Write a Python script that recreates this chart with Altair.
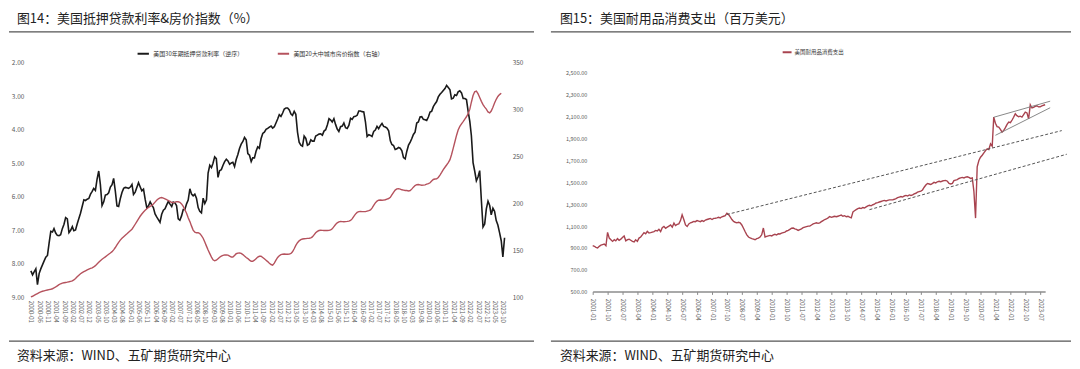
import altair as alt
import pandas as pd

# ---------------- data: left panel ----------------
rate_name = "美国30年期抵押贷款利率（逆序）"
hpi_name = "美国20大中城市房价指数（右轴）"
rate_start = "2000-01-01"
mortgage_rate = [
    8.21, 8.33, 8.24, 8.15, 8.62, 8.29, 8.15, 8.03, 7.91, 7.80, 7.75, 7.38,
    7.03, 7.05, 6.95, 7.08, 7.15, 7.16, 7.13, 6.95, 6.82, 6.62, 6.66, 7.07,
    7.00, 6.89, 7.01, 6.99, 6.81, 6.65, 6.49, 6.29, 6.09, 6.11, 6.07, 6.05,
    5.92, 5.84, 5.75, 5.81, 5.48, 5.23, 5.63, 6.26, 6.15, 5.95, 5.93, 5.88,
    5.71, 5.64, 5.45, 5.83, 6.27, 6.29, 6.06, 5.87, 5.75, 5.72, 5.73, 5.75,
    5.71, 5.63, 5.93, 5.86, 5.72, 5.58, 5.70, 5.82, 5.77, 6.07, 6.33, 6.27,
    6.15, 6.25, 6.32, 6.51, 6.60, 6.68, 6.76, 6.52, 6.40, 6.36, 6.24, 6.14,
    6.22, 6.29, 6.16, 6.18, 6.26, 6.66, 6.70, 6.57, 6.38, 6.38, 6.21, 6.10,
    5.76, 5.92, 5.97, 5.92, 6.04, 6.32, 6.43, 6.48, 6.04, 6.20, 6.09, 5.29,
    5.06, 5.13, 5.00, 4.81, 4.86, 5.42, 5.22, 5.19, 5.06, 4.95, 4.88, 4.93,
    5.03, 4.99, 4.97, 5.10, 4.89, 4.74, 4.56, 4.43, 4.35, 4.23, 4.30, 4.71,
    4.76, 4.95, 4.84, 4.84, 4.64, 4.51, 4.55, 4.27, 4.11, 4.07, 3.99, 3.96,
    3.92, 3.89, 3.95, 3.91, 3.80, 3.68, 3.55, 3.60, 3.50, 3.38, 3.35, 3.35,
    3.41, 3.53, 3.57, 3.45, 3.54, 4.07, 4.37, 4.46, 4.49, 4.19, 4.26, 4.46,
    4.43, 4.30, 4.34, 4.34, 4.19, 4.16, 4.13, 4.12, 4.16, 4.04, 4.00, 3.86,
    3.67, 3.71, 3.77, 3.67, 3.84, 3.98, 4.05, 3.91, 3.89, 3.80, 3.94, 3.96,
    3.87, 3.66, 3.69, 3.61, 3.60, 3.57, 3.44, 3.44, 3.46, 3.47, 3.77, 4.20,
    4.15, 4.17, 4.20, 4.05, 4.01, 3.90, 3.97, 3.88, 3.81, 3.90, 3.92, 3.95,
    4.03, 4.33, 4.44, 4.47, 4.59, 4.57, 4.53, 4.55, 4.63, 4.83, 4.87, 4.64,
    4.46, 4.37, 4.27, 4.14, 4.07, 3.80, 3.77, 3.62, 3.61, 3.69, 3.70, 3.72,
    3.62, 3.47, 3.45, 3.31, 3.23, 3.16, 3.02, 2.94, 2.89, 2.83, 2.77, 2.68,
    2.74, 2.81, 3.08, 3.06, 2.96, 2.98, 2.87, 2.84, 2.90, 3.07, 3.07, 3.10,
    3.45, 3.76, 4.17, 4.98, 5.23, 5.52, 5.41, 5.22, 6.11, 6.90, 6.81, 6.36,
    6.13, 6.26, 6.54, 6.34, 6.43, 6.71, 6.84, 7.07, 7.31, 7.79, 7.22,
]
hpi_20city = [
    100.6, 101.2, 102.1, 103.1, 104.1, 105.0, 105.8, 106.5, 107.0, 107.5, 107.9, 108.3,
    108.7, 109.2, 110.0, 111.1, 112.3, 113.5, 114.5, 115.2, 115.6, 115.9, 116.2, 116.6,
    117.1, 117.6, 118.6, 120.1, 121.9, 123.6, 125.1, 126.4, 127.4, 128.3, 129.2, 130.1,
    130.8, 131.4, 132.4, 133.8, 135.5, 137.3, 139.0, 140.6, 141.9, 143.2, 144.6, 146.0,
    147.3, 148.7, 150.6, 153.1, 155.9, 158.6, 161.0, 162.9, 164.5, 166.1, 167.7, 169.4,
    171.0, 172.6, 175.0, 177.9, 180.8, 183.7, 186.4, 188.8, 190.9, 192.8, 194.4, 195.7,
    197.0, 198.0, 199.5, 201.5, 203.4, 205.0, 206.0, 206.3, 205.7, 204.9, 204.0, 203.2,
    202.2, 201.0, 200.9, 201.4, 202.0, 201.9, 201.3, 199.6, 196.9, 193.3, 189.6, 184.9,
    180.7, 175.9, 171.7, 169.4, 168.8, 168.9, 167.9, 165.8, 163.0, 158.9, 154.6, 150.5,
    146.6, 142.9, 140.0, 139.0, 139.6, 141.2, 142.8, 144.0, 144.7, 145.2, 145.1, 145.0,
    144.0, 143.0, 142.9, 144.7, 146.5, 147.1, 147.3, 146.9, 145.6, 144.0, 142.5, 141.3,
    139.7, 138.5, 138.5, 139.6, 141.2, 142.9, 143.8, 143.8, 142.5, 141.1, 139.6, 138.1,
    136.4, 135.0, 134.4, 136.5, 139.7, 142.5, 144.3, 145.5, 146.0, 146.2, 146.0, 146.0,
    146.1, 146.8, 148.6, 151.8, 155.4, 158.2, 160.2, 161.5, 162.2, 162.5, 162.6, 162.8,
    163.0, 163.4, 164.4, 166.6, 168.8, 170.3, 171.2, 171.5, 171.4, 171.3, 171.2, 171.3,
    171.4, 171.8, 173.0, 175.3, 177.6, 179.4, 180.5, 180.8, 180.7, 180.5, 180.7, 180.9,
    181.3, 182.0, 183.6, 186.3, 188.7, 190.5, 191.3, 191.5, 191.3, 191.3, 191.4, 191.9,
    192.4, 193.2, 195.1, 197.9, 200.7, 202.5, 203.5, 203.7, 203.5, 203.7, 204.0, 204.7,
    205.3, 206.6, 209.1, 211.9, 214.3, 215.6, 215.8, 215.4, 214.6, 214.3, 213.9, 213.8,
    213.4, 213.8, 215.3, 217.4, 219.1, 220.0, 220.2, 219.8, 219.4, 219.6, 219.9, 220.6,
    221.2, 222.1, 224.0, 225.6, 226.1, 226.3, 227.8, 230.3, 233.1, 236.0, 238.6, 241.0,
    243.6, 246.7, 252.0, 258.8, 265.5, 272.5, 278.3, 282.1, 284.9, 287.3, 289.9, 292.4,
    295.7, 300.5, 307.9, 315.0, 319.0, 319.8, 317.0, 312.9, 308.8, 305.3, 302.6, 300.6,
    297.5, 296.5, 298.5, 302.5, 307.0, 311.0, 314.0, 316.0, 317.5,
]
left_rate_ticks = [2, 3, 4, 5, 6, 7, 8, 9]
left_hpi_ticks = [100, 150, 200, 250, 300, 350]
left_x_labels = [f"{2000 + m // 12}-{m % 12 + 1:02d}" for m in range(0, 286, 5)]

# ---------------- data: right panel ----------------
durable_name = "美国耐用品消费支出"
durable_start = "2001-01-01"
durable_spending = [
    921, 915, 905, 900, 915, 925, 930, 935, 920, 1042, 990, 975,
    960, 975, 965, 985, 970, 980, 995, 1010, 965, 975, 980, 970,
    960, 955, 975, 960, 990, 1000, 1020, 1040, 1030, 1051, 1036, 1040,
    1045, 1050, 1060, 1055, 1070, 1050, 1085, 1096, 1080, 1090, 1100, 1110,
    1090, 1127, 1105, 1115, 1120, 1150, 1203, 1160, 1110, 1096, 1120, 1130,
    1135, 1142, 1140, 1150, 1145, 1140, 1150, 1142, 1155, 1160, 1165, 1170,
    1160, 1170, 1172, 1175, 1180, 1175, 1185, 1190, 1195, 1218, 1205, 1185,
    1160, 1142, 1135, 1130, 1135, 1129, 1110, 1080, 1048, 1020, 1000, 991,
    985, 980, 975, 985, 990, 1000, 1020, 1082, 1000, 1005, 1010, 1015,
    1010, 1020, 1025, 1018, 1030, 1028, 1035, 1040, 1045, 1055, 1060, 1070,
    1080, 1082, 1075, 1070, 1060, 1068, 1075, 1085, 1090, 1095, 1100, 1100,
    1110, 1120, 1125, 1130, 1125, 1130, 1140, 1150, 1160, 1165, 1175, 1187,
    1180, 1185, 1190, 1185, 1190, 1195, 1200, 1190, 1195, 1185, 1190, 1182,
    1175, 1230, 1240, 1250, 1260, 1265, 1260, 1270, 1265, 1275, 1285, 1290,
    1285, 1295, 1300, 1311, 1315, 1320, 1325, 1330, 1335, 1330, 1335, 1340,
    1340, 1340, 1345, 1352, 1360, 1365, 1370, 1365, 1375, 1380, 1375, 1385,
    1380, 1385, 1395, 1400, 1410, 1415, 1420, 1430, 1455, 1475, 1490, 1485,
    1480, 1490, 1500, 1495, 1505, 1510, 1505, 1512, 1515, 1518, 1510, 1490,
    1485, 1490, 1515, 1520, 1525, 1535, 1540, 1545, 1540, 1548, 1551, 1545,
    1536, 1540, 1420, 1173, 1642, 1700, 1730, 1748, 1770, 1790, 1807, 1800,
    1852, 1830, 2096, 2040, 2010, 2005, 1985, 1960, 1975, 2000, 2030, 2051,
    2045, 2070, 2095, 2127, 2110, 2100, 2105, 2097, 2120, 2142, 2135, 2081,
    2209, 2180, 2185, 2195, 2200, 2190, 2191, 2200, 2205, 2209,
]
right_y_ticks = [500, 700, 900, 1100, 1300, 1500, 1700, 1900, 2100, 2300, 2500]
right_x_labels = [f"{2001 + m // 12}-{m % 12 + 1:02d}" for m in range(0, 271, 9)]
# annotation lines (date, value)
trend_pre_gfc = [("2007-10-01", 1206), ("2024-08-01", 1973)]
trend_post_gfc = [("2014-12-01", 1250), ("2024-11-01", 1757)]
channel_top = [("2021-03-01", 2095), ("2024-01-01", 2242)]
channel_bottom = [("2021-04-01", 1930), ("2024-01-01", 2182)]

title_left = "图14：美国抵押贷款利率&房价指数（%）"
title_right = "图15：美国耐用品消费支出（百万美元）"
source_text = "资料来源：WIND、五矿期货研究中心"

FONT = "Noto Sans CJK SC"
LBL = "#595959"


def dt(s):
    y, m = s.split("-")[:2]
    return alt.DateTime(year=int(y), month=int(m), date=1, utc=True)


# ---------------- frames ----------------
rate_df = pd.DataFrame({
    "date": pd.date_range(rate_start, periods=len(mortgage_rate), freq="MS").strftime("%Y-%m-%d"),
    "value": mortgage_rate, "series": rate_name})
hpi_df = pd.DataFrame({
    "date": pd.date_range(rate_start, periods=len(hpi_20city), freq="MS").strftime("%Y-%m-%d"),
    "value": hpi_20city, "series": hpi_name})
dur_df = pd.DataFrame({
    "date": pd.date_range(durable_start, periods=len(durable_spending), freq="MS").strftime("%Y-%m-%d"),
    "value": durable_spending, "series": durable_name})

rows = []
for name, pts in [("t1", trend_pre_gfc), ("t2", trend_post_gfc)]:
    for d, v in pts:
        rows.append({"date": d, "value": v, "g": name})
dash_df = pd.DataFrame(rows)
rows = []
for name, pts in [("c1", channel_top), ("c2", channel_bottom)]:
    for d, v in pts:
        rows.append({"date": d, "value": v, "g": name})
chan_df = pd.DataFrame(rows)

one = pd.DataFrame({"k": [0]})


# ---------------- decorations helper ----------------
def decorations(title, dx_left, rule_x1, rule_x2, top_y):
    t = alt.Chart(pd.DataFrame({"t": [title]})).mark_text(
        align="left", baseline="middle", font=FONT, fontSize=13, color="#222222"
    ).encode(text="t:N", x=alt.value(dx_left), y=alt.value(top_y - 44))
    s = alt.Chart(pd.DataFrame({"t": [source_text]})).mark_text(
        align="left", baseline="middle", font=FONT, fontSize=13, color="#222222"
    ).encode(text="t:N", x=alt.value(dx_left), y=alt.value(top_y + 295))
    r1 = alt.Chart(one).mark_rule(color="#555555", strokeWidth=1.3).encode(
        x=alt.value(rule_x1), x2=alt.value(rule_x2), y=alt.value(top_y - 31), y2=alt.value(top_y - 31))
    r2 = alt.Chart(one).mark_rule(color="#555555", strokeWidth=1.3).encode(
        x=alt.value(rule_x1), x2=alt.value(rule_x2), y=alt.value(top_y + 280), y2=alt.value(top_y + 280))
    return [t, s, r1, r2]


# ---------------- left panel ----------------
LW, LH = 478, 236
left_x = alt.X(
    "date:T", title=None,
    scale=alt.Scale(type="utc", domain=[dt("2000-01"), dt("2023-12")]),
    axis=alt.Axis(values=[dt(s) for s in left_x_labels], format="%Y-%m", labelAngle=90,
                  labelAlign="left", labelBaseline="middle",
                  labelFontSize=6, labelColor=LBL, labelFont=FONT, labelPadding=3,
                  ticks=False, domain=False, grid=False, labelOverlap=False))
color_left = alt.Color(
    "series:N",
    scale=alt.Scale(domain=[rate_name, hpi_name], range=["#1a1a1a", "#b5525d"]),
    legend=alt.Legend(orient="none", legendX=106, legendY=-16, direction="horizontal",
                      title=None, symbolType="stroke", symbolStrokeWidth=2, symbolSize=130,
                      labelFontSize=6, labelFont=FONT, labelColor="#333333",
                      columnPadding=30, labelOffset=3))

rate_line = alt.Chart(rate_df).mark_line(strokeWidth=1.6).encode(
    x=left_x,
    y=alt.Y("value:Q", title=None,
            scale=alt.Scale(domain=[2, 9], reverse=True, nice=False, zero=False),
            axis=alt.Axis(values=left_rate_ticks, format=".2f", labelFontSize=6.5, labelColor=LBL,
                          labelFont=FONT, ticks=False, domain=False, grid=False, labelPadding=7)),
    color=color_left)
hpi_line = alt.Chart(hpi_df).mark_line(strokeWidth=1.4).encode(
    x=left_x,
    y=alt.Y("value:Q", title=None,
            scale=alt.Scale(domain=[100, 350], nice=False, zero=False),
            axis=alt.Axis(orient="right", values=left_hpi_ticks, format="d", labelFontSize=6.5,
                          labelColor=LBL, labelFont=FONT, ticks=False, domain=False, grid=False,
                          labelPadding=6)),
    color=color_left)

anchor = alt.Chart(one).mark_rule(opacity=0).encode(
    x=alt.value(-22), x2=alt.value(-21), y=alt.value(-54), y2=alt.value(-53))

left = alt.layer(rate_line, hpi_line, *decorations(title_left, -14, -22, 506, 0), anchor).resolve_scale(
    y="independent").properties(width=LW, height=LH)

# ---------------- right panel ----------------
RW, RH = 455, 236
right_x_scale = alt.Scale(type="utc", domain=[dt("2001-01"), dt("2023-10")])
right_y_scale = alt.Scale(domain=[448, 2594], nice=False, zero=False)
right_x = alt.X(
    "date:T", title=None, scale=right_x_scale,
    axis=alt.Axis(values=[dt(s) for s in right_x_labels], format="%Y-%m", labelAngle=90,
                  labelAlign="left", labelBaseline="middle",
                  labelFontSize=6, labelColor=LBL, labelFont=FONT, labelPadding=4,
                  ticks=True, tickSize=3, tickColor="#888888", domain=True, domainColor="#8c8c8c",
                  domainWidth=1.5, grid=False, labelOverlap=False, offset=-6))
right_y = alt.Y("value:Q", title=None, scale=right_y_scale,
                axis=alt.Axis(values=right_y_ticks, format=",.2f", labelFontSize=5.5, labelColor=LBL,
                              labelFont=FONT, ticks=False, domain=False, grid=False, labelPadding=6))

dur_line = alt.Chart(dur_df).mark_line(strokeWidth=1.4).encode(
    x=right_x, y=right_y,
    color=alt.Color("series:N", scale=alt.Scale(domain=[durable_name], range=["#a8434f"]),
                    legend=alt.Legend(orient="none", legendX=190, legendY=-16, direction="horizontal",
                                      title=None, symbolType="stroke", symbolStrokeWidth=2,
                                      symbolSize=80, labelFontSize=5.5, labelFont=FONT,
                                      labelColor="#333333", labelOffset=2)))
dash_lines = alt.Chart(dash_df).mark_line(strokeDash=[3, 2], strokeWidth=1, color="#555555").encode(
    x=right_x, y=right_y, detail="g:N")
chan_lines = alt.Chart(chan_df).mark_line(strokeWidth=0.9, color="#7a7a7a").encode(
    x=right_x, y=right_y, detail="g:N")

right = alt.layer(dur_line, dash_lines, chan_lines, *decorations(title_right, -33, -42, 481, 0)).properties(
    width=RW, height=RH)

chart = alt.hconcat(left, right, spacing=87, bounds="flush").resolve_scale(color="independent").properties(
    padding=0).configure(font=FONT).configure_view(stroke=None)

chart.save("out.html", embed_options={"renderer": "svg", "actions": False})
